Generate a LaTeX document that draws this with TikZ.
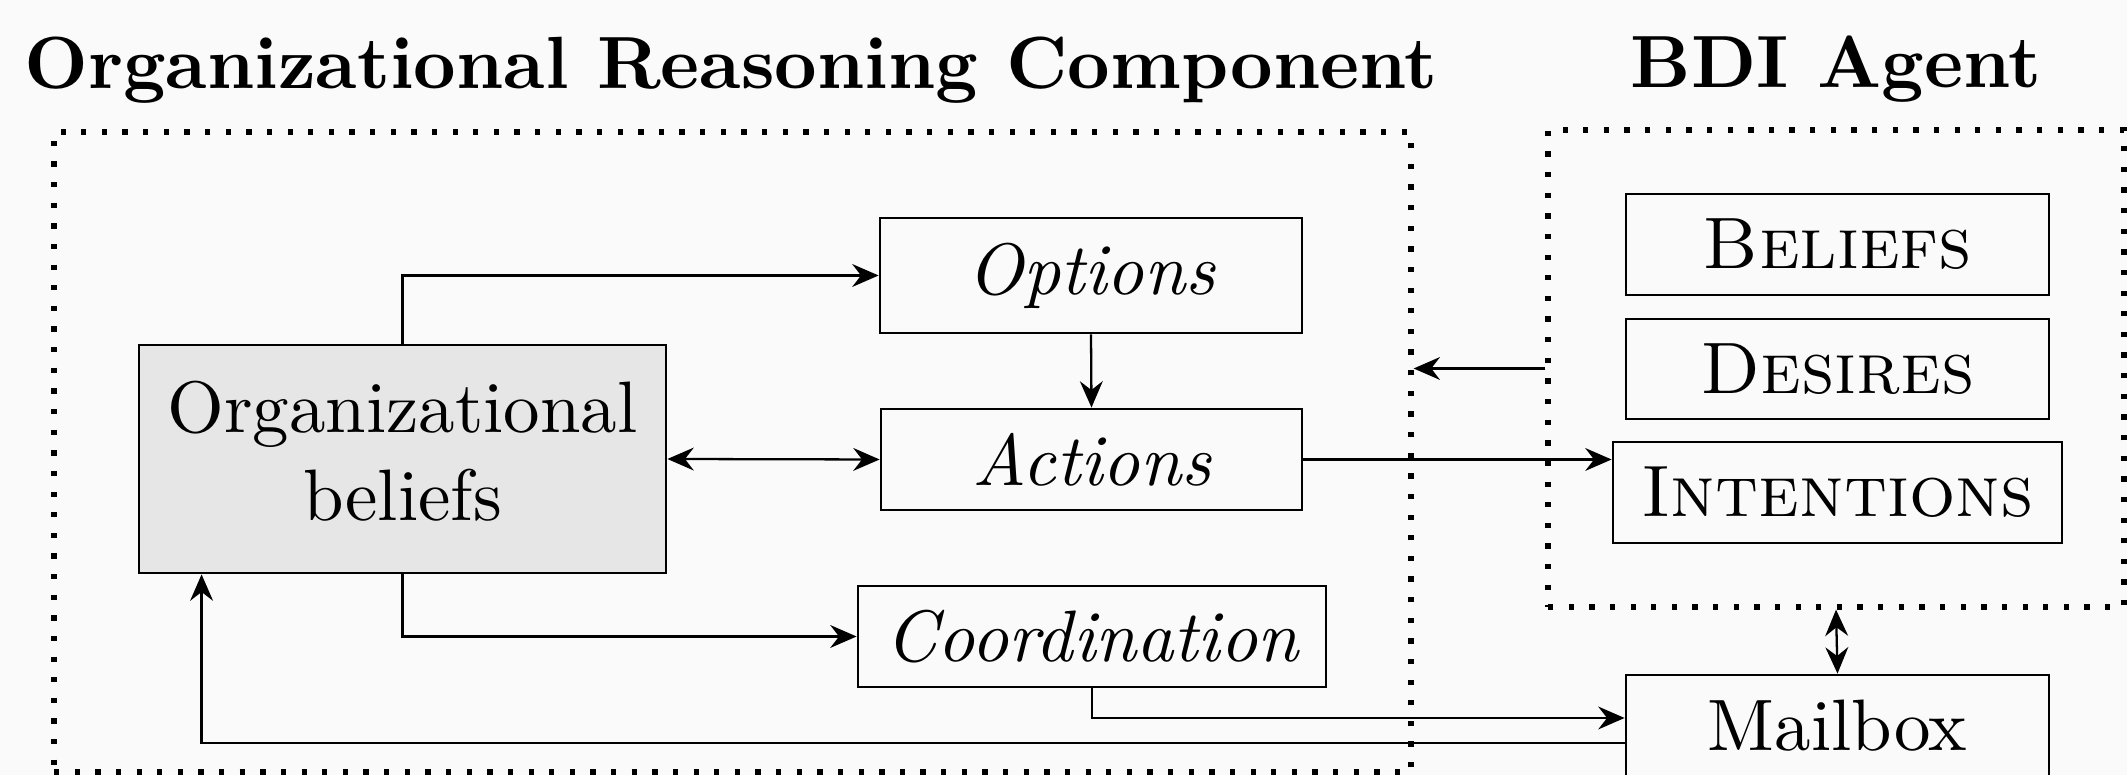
\documentclass[tikz,border=0pt]{standalone}
\usetikzlibrary{arrows.meta,calc}
\definecolor{bgc}{RGB}{250,250,250}
\definecolor{obfill}{RGB}{230,230,230}
\newcommand\hugetxt[1]{\scalebox{2.074}{#1}}
\newcommand\titletxt[1]{\scalebox{2.105}{#1}}
\begin{document}
\begin{tikzpicture}[
  x=1cm,y=1cm,
  >={Stealth[length=7.5pt,width=6.5pt,inset=2.5pt]},
  box/.style={draw, line width=0.8pt, inner sep=0pt, font=\normalsize},
  conn/.style={line width=0.65pt, ->},
  dotbox/.style={draw, line width=1.5pt, dash pattern=on 1.5pt off 4.37pt, inner sep=0pt},
  title/.style={font=\normalsize\bfseries, anchor=base, inner sep=0pt}
]
\fill[bgc] (0,0) rectangle (21.27,-7.75);
\useasboundingbox (0,0) rectangle (21.27,-7.75);

\node[title] (t1) at (7.31,-0.89) {\titletxt{\bfseries Organizational Reasoning Component}};
\node[title] (t2) at (18.36,-0.88) {\titletxt{\bfseries BDI Agent}};

\node[dotbox, minimum width=13.57cm, minimum height=6.40cm] (orc) at (7.325,-4.52) {};
\node[dotbox, minimum width=5.76cm, minimum height=4.77cm] (bdi) at (18.36,-3.685) {};

\node[box, fill=obfill, minimum width=5.27cm, minimum height=2.28cm] (ob) at (4.025,-4.59) {\hugetxt{\begin{tabular}{@{}c@{}}Organizational\\beliefs\end{tabular}}};
\node[box, minimum width=4.22cm, minimum height=1.15cm] (opt) at (10.91,-2.755) {\hugetxt{\itshape Options}};
\node[box, minimum width=4.21cm, minimum height=1.01cm] (act) at (10.915,-4.595) {\hugetxt{\itshape Actions}};
\node[box, minimum width=4.68cm, minimum height=1.01cm] (coo) at (10.92,-6.365) {\hugetxt{\itshape Coordination}};

\node[box, minimum width=4.23cm, minimum height=1.01cm] (bel) at (18.375,-2.445) {\hugetxt{\textsc{Beliefs}}};
\node[box, minimum width=4.23cm, minimum height=1.00cm] (des) at (18.375,-3.69) {\hugetxt{\textsc{Desires}}};
\node[box, minimum width=4.49cm, minimum height=1.01cm] (int) at (18.375,-4.925) {\hugetxt{\textsc{Intentions}}};
\node[box, minimum width=4.23cm, minimum height=1.01cm] (mb) at (18.375,-7.255) {\hugetxt{Mailbox}};

\coordinate (mbin) at ($(mb.west)+(0,0.075)$);
\coordinate (mbout) at ($(mb.west)+(0,-0.175)$);
\coordinate (obin) at ($(ob.south west)+(0.64,0)$);

\draw[conn] (ob.north) |- (opt.west);
\draw[conn] (opt.south) -- (act.north);
\draw[conn,<->] (ob.east) -- (act.west);
\draw[conn] (ob.south) |- (coo.west);
\draw[conn] (act.east) -- (act.east -| int.west);
\draw[conn] (bdi.west) -- (bdi.west -| orc.east);
\draw[conn] (coo.south) |- (mbin);
\draw[conn] (mbout) -| (obin);
\draw[conn,<->] (bdi.south) -- (mb.north);
\end{tikzpicture}
\end{document}
